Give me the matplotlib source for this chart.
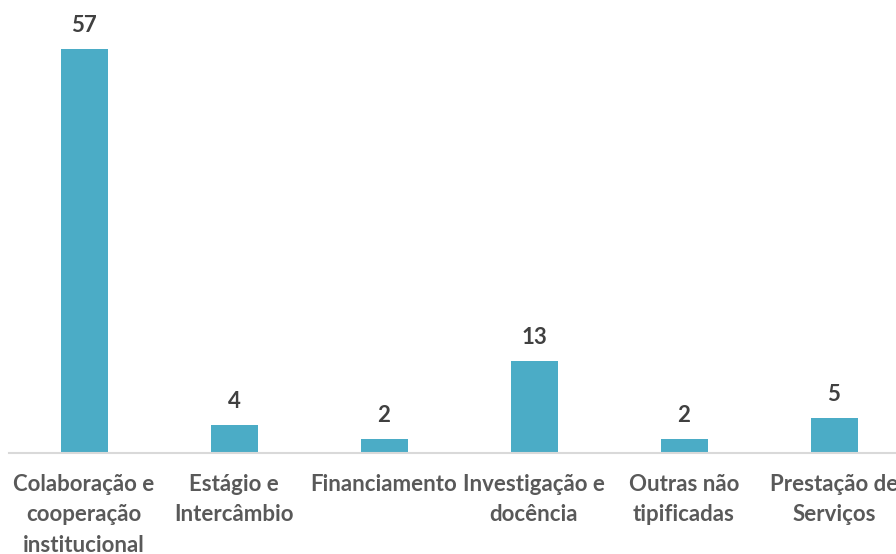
import matplotlib
matplotlib.use("Agg")
import matplotlib.pyplot as plt

categories = [
    "Colaboração e\ncooperação\ninstitucional",
    "Estágio e\nIntercâmbio",
    "Financiamento",
    "Investigação e\ndocência",
    "Outras não\ntipificadas",
    "Prestação de\nServiços",
]
values = [57, 4, 2, 13, 2, 5]

BAR_COLOR = "#4BACC6"
LABEL_COLOR = "#595959"
VALUE_COLOR = "#404040"
AXIS_COLOR = "#D9D9D9"
FONT = ["Lato", "DejaVu Sans"]

W, H = 896, 554
fig = plt.figure(figsize=(W / 100, H / 100), dpi=100)

# plot area: each category slot is 150 px wide, baseline at 453 px from top
left_px, slot_px, base_px = 9, 150, 453
ax = fig.add_axes([left_px / W, (H - base_px) / H, slot_px * len(categories) / W, base_px / H])

px_per_unit = 404 / 57
ax.bar(range(len(categories)), values, width=47 / slot_px, color=BAR_COLOR, zorder=2)
ax.set_xlim(-0.5, len(categories) - 0.5)
ax.set_ylim(0, base_px / px_per_unit)

for i, v in enumerate(values):
    ax.annotate(str(v), (i, v), xytext=(0, 17 * 0.72), textcoords="offset points",
                ha="center", va="baseline", fontsize=16, fontweight="bold",
                color=VALUE_COLOR, family=FONT, annotation_clip=False)

ax.set_xticks(range(len(categories)))
ax.set_xticklabels(categories, fontsize=16, fontweight="bold", color=LABEL_COLOR,
                   family=FONT, linespacing=1.55)
ax.tick_params(axis="x", length=0, pad=15)
ax.set_yticks([])
for side in ("top", "left", "right"):
    ax.spines[side].set_visible(False)
ax.spines["bottom"].set_color(AXIS_COLOR)
ax.spines["bottom"].set_linewidth(1.5)

fig.savefig("out.png", dpi=100)
